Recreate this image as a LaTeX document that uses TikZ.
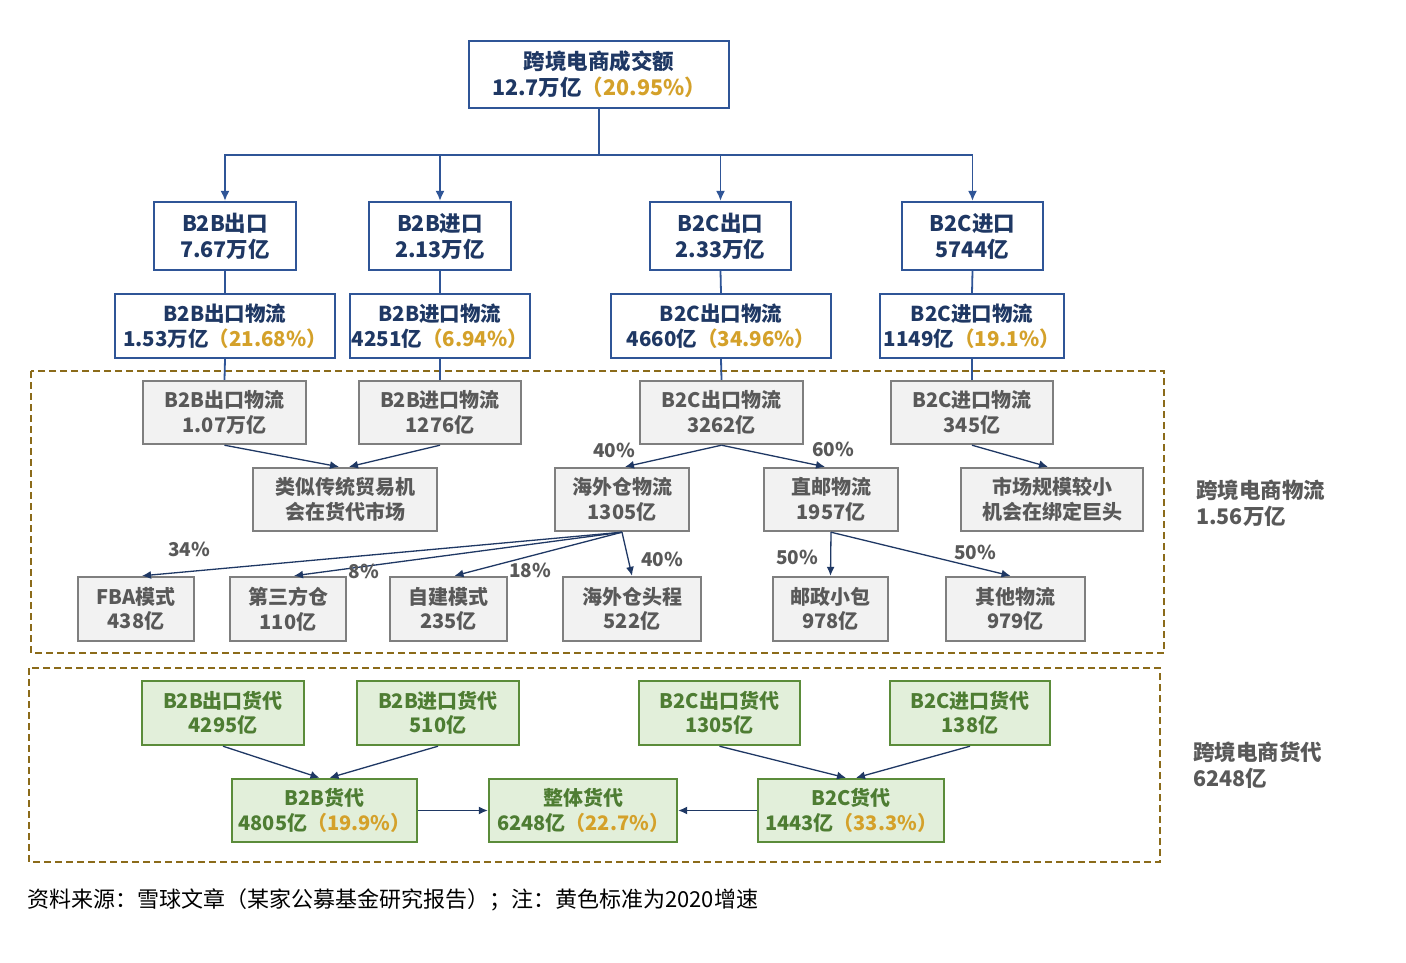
\documentclass[tikz,border=0pt]{standalone}
\usepackage{fontspec}
\setmainfont{Noto Sans CJK SC}
\usetikzlibrary{arrows.meta,calc}
\definecolor{navy}{HTML}{1F3864}
\definecolor{bbord}{HTML}{2F5597}
\definecolor{pct}{HTML}{D4A12A}
\definecolor{gtext}{HTML}{595959}
\definecolor{gbord}{HTML}{7F7F7F}
\definecolor{gfill}{HTML}{F2F2F2}
\definecolor{grtext}{HTML}{4E7D33}
\definecolor{grbord}{HTML}{5B8C3A}
\definecolor{grfill}{HTML}{E2EFDA}
\definecolor{dashcol}{HTML}{8B6B1A}
\newcommand\pc[1]{\textcolor{pct}{（#1）}}
\begin{document}
\begin{tikzpicture}[x=1pt,y=-1pt,
  bluebox/.style={draw=bbord, line width=2.2pt, fill=white, text=navy, font=\fontsize{20.5}{25}\selectfont\bfseries, align=center, inner sep=0pt},
  graybox/.style={draw=gbord, line width=2.4pt, fill=gfill, text=gtext, font=\fontsize{20}{24.5}\selectfont\bfseries, align=center, inner sep=0pt},
  greenbox/.style={draw=grbord, line width=2.4pt, fill=grfill, text=grtext, font=\fontsize{20}{24.5}\selectfont\bfseries, align=center, inner sep=0pt},
  bus/.style={draw=bbord, line width=1.8pt},
  arr/.style={draw=navy, line width=1.3pt, -{Latex[length=9pt,width=8pt]}},
  topArr/.style={draw=bbord, line width=1.8pt, -{Latex[length=10pt,width=9pt]}},
  pctlab/.style={text=gtext, font=\fontsize{19}{22}\selectfont\bfseries, inner sep=0pt},
  region/.style={draw=dashcol, line width=2.4pt, dash pattern=on 7pt off 4pt},
  side/.style={text=gtext, font=\fontsize{21.5}{26}\selectfont\bfseries, align=left, anchor=west, inner sep=0pt}
]
\useasboundingbox[fill=white] (0,0) rectangle (1406,962);

% regions
\draw[region] (31,371) rectangle (1164,653);
\draw[region] (29,668) rectangle (1160,862);

% top
\node[bluebox, minimum width=260pt, minimum height=67pt, font=\fontsize{21.5}{26}\selectfont\bfseries] (top) at (599,74.5) {跨境电商成交额\\12.7万亿\pc{20.95\%}};

% row 1
\node[bluebox, minimum width=142pt, minimum height=68pt, font=\fontsize{21.5}{26}\selectfont\bfseries] (b2bex) at (225,236) {B2B出口\\7.67万亿};
\node[bluebox, minimum width=142pt, minimum height=68pt, font=\fontsize{21.5}{26}\selectfont\bfseries] (b2bim) at (440,236) {B2B进口\\2.13万亿};
\node[bluebox, minimum width=141pt, minimum height=68pt, font=\fontsize{21.5}{26}\selectfont\bfseries] (b2cex) at (720.5,236) {B2C出口\\2.33万亿};
\node[bluebox, minimum width=141pt, minimum height=68pt, font=\fontsize{21.5}{26}\selectfont\bfseries] (b2cim) at (972.5,236) {B2C进口\\5744亿};

% row 2
\node[bluebox, minimum width=220pt, minimum height=64pt] (b2bexl) at (225,326) {B2B出口物流\\1.53万亿\pc{21.68\%}};
\node[bluebox, minimum width=180pt, minimum height=64pt] (b2biml) at (440,326) {B2B进口物流\\4251亿\pc{6.94\%}};
\node[bluebox, minimum width=220pt, minimum height=64pt] (b2cexl) at (721,326) {B2C出口物流\\4660亿\pc{34.96\%}};
\node[bluebox, minimum width=184pt, minimum height=64pt] (b2ciml) at (972,326) {B2C进口物流\\1149亿\pc{19.1\%}};

% bus
\coordinate (j) at (599,155);
\draw[bus] (top.south) -- (j);
\draw[topArr] (j) -| (b2bex.north);
\draw[topArr] (j) -| (b2bim.north);
\draw[topArr] (j) -| (b2cex.north);
\draw[topArr] (j) -| (b2cim.north);

% gray row 1
\node[graybox, minimum width=163pt, minimum height=63pt] (g1) at (224.5,412.5) {B2B出口物流\\1.07万亿};
\node[graybox, minimum width=162pt, minimum height=63pt] (g2) at (440,412.5) {B2B进口物流\\1276亿};
\node[graybox, minimum width=163pt, minimum height=63pt] (g3) at (721.5,412.5) {B2C出口物流\\3262亿};
\node[graybox, minimum width=162pt, minimum height=63pt] (g4) at (972,412.5) {B2C进口物流\\345亿};

\draw[bus] (b2bex.south) -- (b2bexl.north);
\draw[bus] (b2bim.south) -- (b2biml.north);
\draw[bus] (b2cex.south) -- (b2cexl.north);
\draw[bus] (b2cim.south) -- (b2ciml.north);
\draw[bus] (b2bexl.south) -- (g1.north);
\draw[bus] (b2biml.south) -- (g2.north);
\draw[bus] (b2cexl.south) -- (g3.north);
\draw[bus] (b2ciml.south) -- (g4.north);

% gray row 2
\node[graybox, minimum width=184pt, minimum height=63pt] (lei) at (345,499.5) {类似传统贸易机\\会在货代市场};
\node[graybox, minimum width=134pt, minimum height=63pt] (hwc) at (622,499.5) {海外仓物流\\1305亿};
\node[graybox, minimum width=134pt, minimum height=63pt] (zy) at (831,499.5) {直邮物流\\1957亿};
\node[graybox, minimum width=182pt, minimum height=63pt] (sc) at (1052,499.5) {市场规模较小\\机会在绑定巨头};

% gray row 3
\node[graybox, minimum width=116pt, minimum height=64pt] (fba) at (136,609) {FBA模式\\438亿};
\node[graybox, minimum width=116pt, minimum height=64pt] (dsf) at (288,609) {第三方仓\\110亿};
\node[graybox, minimum width=117pt, minimum height=64pt] (zj) at (448.5,609) {自建模式\\235亿};
\node[graybox, minimum width=138pt, minimum height=64pt] (tc) at (632,609) {海外仓头程\\522亿};
\node[graybox, minimum width=115pt, minimum height=64pt] (yz) at (830.5,609) {邮政小包\\978亿};
\node[graybox, minimum width=139pt, minimum height=64pt] (qt) at (1015.5,609) {其他物流\\979亿};

% logistics arrows
\draw[arr] (g1.south) -- ($(lei.north)+(-6,0)$);
\draw[arr] (g2.south) -- ($(lei.north)+(4,0)$);
\draw[arr] (g3.south) -- ($(hwc.north)+(3,0)$);
\draw[arr] (g3.south) -- ($(zy.north)+(-6,0)$);
\draw[arr] (g4.south) -- ($(sc.north)+(-4,0)$);
\draw[arr] (hwc.south) -- ($(fba.north)+(6,0)$);
\draw[arr] (hwc.south) -- ($(dsf.north)+(6,0)$);
\draw[arr] (hwc.south) -- ($(zj.north)+(6,0)$);
\draw[arr] (hwc.south) -- (tc.north);
\draw[arr] (zy.south) -- (yz.north);
\draw[arr] (zy.south) -- ($(qt.north)+(-5,0)$);

% percentage labels
\node[pctlab] (p1) at (614,450) {40\%};
\node[pctlab] (p2) at (833,449) {60\%};
\node[pctlab] (p3) at (189,549) {34\%};
\node[pctlab] (p4) at (364,571) {8\%};
\node[pctlab] (p5) at (530,570) {18\%};
\node[pctlab] (p6) at (662,559) {40\%};
\node[pctlab] (p7) at (797,557) {50\%};
\node[pctlab] (p8) at (975,552) {50\%};

% forwarding
\node[greenbox, minimum width=162pt, minimum height=64pt] (f1) at (223,713) {B2B出口货代\\4295亿};
\node[greenbox, minimum width=162pt, minimum height=64pt] (f2) at (438,713) {B2B进口货代\\510亿};
\node[greenbox, minimum width=161pt, minimum height=64pt] (f3) at (719.5,713) {B2C出口货代\\1305亿};
\node[greenbox, minimum width=160pt, minimum height=64pt] (f4) at (970,713) {B2C进口货代\\138亿};
\node[greenbox, minimum width=185pt, minimum height=63pt] (fb) at (324.5,810.5) {B2B货代\\4805亿\pc{19.9\%}};
\node[greenbox, minimum width=188pt, minimum height=63pt] (fz) at (583,810.5) {整体货代\\6248亿\pc{22.7\%}};
\node[greenbox, minimum width=186pt, minimum height=63pt] (fc) at (851,810.5) {B2C货代\\1443亿\pc{33.3\%}};

\draw[arr] (f1.south) -- ($(fb.north)+(-5,0)$);
\draw[arr] (f2.south) -- ($(fb.north)+(5,0)$);
\draw[arr] (f3.south) -- ($(fc.north)+(-5,0)$);
\draw[arr] (f4.south) -- ($(fc.north)+(5,0)$);
\draw[arr] (fb.east) -- (fz.west);
\draw[arr] (fc.west) -- (fz.east);

% side labels
\node[side] (s1) at (1196,503) {跨境电商物流\\1.56万亿};
\node[side] (s2) at (1193,765) {跨境电商货代\\6248亿};

% footer
\node[anchor=west, inner sep=0pt, font=\fontsize{22}{26}\selectfont, text=black] (foot) at (27,900) {资料来源：雪球文章（某家公募基金研究报告）；注：黄色标准为2020增速};
\end{tikzpicture}
\end{document}
